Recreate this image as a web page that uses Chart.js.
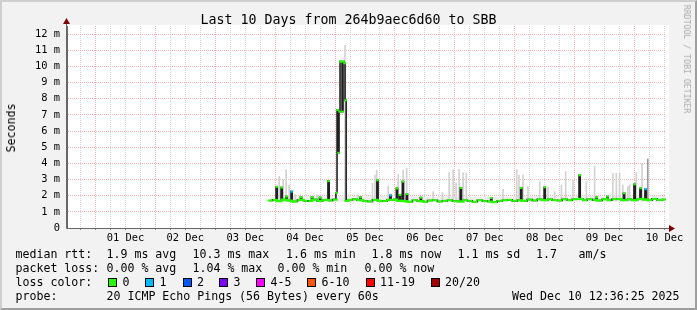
<!DOCTYPE html>
<html>
<head>
<meta charset="utf-8">
<script src="https://cdn.jsdelivr.net/npm/chart.js@4.4.1/dist/chart.umd.min.js"></script>
<style>
  html, body { margin: 0; padding: 0; background: #f2f2f2; }
  #wrap {
    position: relative; width: 697px; height: 310px; overflow: hidden;
    background: #f2f2f2; font-family: "DejaVu Sans Mono", monospace; color: #000;
  }
  #frame {
    position: absolute; left: 0; top: 0; width: 697px; height: 310px; box-sizing: border-box;
    border-top: 2px solid #cfcfcf; border-left: 2px solid #cfcfcf;
    border-right: 2px solid #9e9e9e; border-bottom: 2px solid #9e9e9e; pointer-events: none;
  }
  canvas { position: absolute; left: 0; top: 0; }
  .t { position: absolute; white-space: pre; font-size: 11.6px; line-height: 14px; }
  .box { position: absolute; width: 7px; height: 7px; border: 1px solid #000; }
  #title { position: absolute; left: 0; top: 11px; width: 697px; text-align: center; font-size: 13.3px; line-height: 17px; white-space: pre; }
  #ylabel { position: absolute; left: 11px; top: 128px; transform: translate(-50%, -50%) rotate(-90deg); font-size: 11.6px; white-space: pre; }
  #credit { position: absolute; left: 687px; top: 59px; transform: translate(-50%, -50%) rotate(90deg); font-size: 8.2px; color: #aaaaaa; white-space: pre; }
</style>
</head>
<body>
<div id="wrap">
  <canvas id="smokeChart" width="697" height="310"></canvas>
  <div id="title">Last 10 Days from 264b9aec6d60 to SBB</div>
  <div id="ylabel">Seconds</div>
  <div id="credit">RRDTOOL / TOBI OETIKER</div>
  <div id="legend"></div>
  <div id="frame"></div>
</div>
<script>
// hours are counted from 01 Dec 00:00, values in milliseconds
const dayLabels = ["01 Dec", "02 Dec", "03 Dec", "04 Dec", "05 Dec", "06 Dec", "07 Dec", "08 Dec", "09 Dec", "10 Dec"];

// median rtt, one reading every 2 hours from hour 70
const baseStart = 70;
const baseStep = 2;
const baseMs = [
  1.70, 1.74, 1.66, 1.76, 1.70, 1.64, 1.74, 1.68, 1.66, 1.76,
  1.68, 1.74, 1.70, 1.76, 1.72, 1.68, 1.74, 1.78, 1.72, 1.66,
  1.64, 1.74, 1.68, 1.66, 1.74, 1.76, 1.68, 1.66, 1.62, 1.72,
  1.66, 1.62, 1.70, 1.72, 1.64, 1.68, 1.72, 1.66, 1.64, 1.72,
  1.68, 1.62, 1.72, 1.66, 1.64, 1.60, 1.68, 1.72, 1.74, 1.68,
  1.72, 1.68, 1.76, 1.70, 1.78, 1.72, 1.78, 1.72, 1.70, 1.78,
  1.72, 1.78, 1.80, 1.72, 1.78, 1.74, 1.70, 1.78, 1.72, 1.78,
  1.80, 1.72, 1.78, 1.72, 1.80, 1.76, 1.72, 1.80, 1.74, 1.76
];

// short median jumps (hour, ms, lost pings)
const spikeHours = [72.6, 74.6, 76.6, 78.6, 82.4, 86.8, 90.0, 93.4, 96.6, 97.0, 97.4, 97.8, 98.2, 98.6, 99.0, 99.4, 99.8, 100.2,
  106.2, 113.0, 118.2, 120.8, 122.0, 123.2, 124.8, 130.4, 146.4, 158.6, 170.6, 180.0, 194.0, 200.8, 205.2, 211.8, 216.0, 218.4, 220.4];
const spikeMs = [2.55, 2.50, 1.95, 2.25, 1.90, 1.92, 1.88, 2.90, 2.18, 7.30, 4.65, 7.20, 10.30, 10.30, 7.20, 10.30, 10.20, 7.90,
  1.90, 2.95, 2.02, 2.45, 2.04, 2.87, 2.10, 1.88, 2.48, 1.86, 2.48, 2.52, 3.26, 1.90, 1.95, 2.15, 2.70, 2.46, 2.40];
const spikeLoss = [0, 0, 0, 1, 0, 0, 0, 0, 0, 0, 0, 0, 0, 0, 0, 0, 0, 0,
  0, 0, 1, 0, 0, 0, 0, 0, 0, 0, 0, 0, 0, 0, 0, 0, 0, 0, 1];

// light smoke: spread of the pings
const hazeStart = 70;
const hazeStep = 6;
const hazeTop = [1.92, 2.0, 1.96, 2.0, 1.96, 1.96, 2.0, 1.96, 2.0, 1.96, 1.92, 1.92, 1.96, 1.92,
  1.9, 1.92, 1.96, 1.96, 2.0, 1.96, 1.96, 2.0, 1.96, 2.0, 2.0, 2.04, 1.96, 1.96];
const smokeFloor = 1.68;
const smokeHours = [73.6, 75.2, 76.4, 77.6, 80, 82, 88.8, 100, 105.2, 111, 112, 112.7, 117.3, 121.3, 123.3,
  124.7, 135.3, 139, 141.7, 143.3, 144.5, 145.7, 147.3, 148.6, 163.3, 168.8, 169.7, 171.3, 173.3, 178,
  181.3, 184, 186.7, 188.4, 191.3, 196.7, 200, 207.3, 208.7, 210, 211.3, 213.3, 214, 216.7, 219];
const smokeTop = [3.2, 3.0, 3.6, 2.65, 2.1, 2.05, 2.05, 11.3, 2.05, 2.77, 3.28, 3.59, 2.6, 3.3, 3.59,
  3.7, 2.25, 2.2, 3.43, 3.6, 2.8, 3.63, 3.43, 3.4, 2.4, 3.6, 3.28, 3.28, 2.56, 2.87,
  2.5, 2.25, 2.66, 3.49, 2.97, 2.87, 3.8, 3.39, 3.39, 3.39, 2.66, 2.56, 2.66, 3.43, 4.0];
const darkSmokeHours = [221.3];
const darkSmokeTop = [4.27];

const rttStats = ["1.9 ms avg", "10.3 ms max", "1.6 ms min", "1.8 ms now", "1.1 ms sd", "1.7", "am/s"];
const lossStats = ["0.00 % avg", "1.04 % max", "0.00 % min", "0.00 % now"];
const lossLegend = ["0", "1", "2", "3", "4-5", "6-10", "11-19", "20/20"];
const lossColors = ["#26ff00", "#00b8ff", "#0059ff", "#7e00ff", "#ff00ff", "#ff5500", "#ff0000", "#a10000"];

const FONT = "DejaVu Sans Mono";

function baseAt(h) {
  const i = Math.round((h - baseStart) / baseStep);
  return baseMs[Math.min(baseMs.length - 1, Math.max(0, i))];
}

function buildMedianPoints() {
  const points = [];
  baseMs.forEach((v, i) => {
    const h = baseStart + i * baseStep;
    if (spikeHours.some((s) => Math.abs(s - h) < 1)) return;
    points.push({ x: h, y: v, loss: 0, spike: false });
  });
  spikeHours.forEach((h, i) => {
    points.push({ x: h, y: spikeMs[i], loss: spikeLoss[i], spike: true });
    const prev = spikeHours[i - 1];
    const next = spikeHours[i + 1];
    if (prev === undefined || h - prev > 0.6) points.push({ x: h - 0.5, y: baseAt(h - 0.5), loss: 0, spike: false });
    if (next === undefined || next - h > 0.6) points.push({ x: h + 0.5, y: baseAt(h + 0.5), loss: 0, spike: false });
  });
  return points.sort((a, b) => a.x - b.x);
}

const gridHours = [];
for (let h = -6; h <= 228; h += 6) gridHours.push(h);

const plotDecor = {
  id: "plotDecor",
  beforeDraw(chart) {
    const { ctx, chartArea: a } = chart;
    ctx.save();
    ctx.fillStyle = "#ffffff";
    ctx.fillRect(a.left, a.top - 1, a.right - a.left + 3, a.bottom - a.top + 1);
    ctx.restore();
  },
  afterDraw(chart) {
    const { ctx, chartArea: a } = chart;
    const x0 = Math.round(a.left) - 0.5;
    const y0 = Math.round(a.bottom) + 0.5;
    ctx.save();
    ctx.strokeStyle = "#666666";
    ctx.lineWidth = 1;
    ctx.beginPath();
    ctx.moveTo(x0, y0); ctx.lineTo(x0, a.top - 2);
    ctx.moveTo(x0, y0); ctx.lineTo(a.right + 3, y0);
    ctx.stroke();
    ctx.fillStyle = "#7f0000";
    ctx.beginPath();
    ctx.moveTo(x0, a.top - 8); ctx.lineTo(x0 - 3.5, a.top - 2); ctx.lineTo(x0 + 3.5, a.top - 2);
    ctx.closePath(); ctx.fill();
    ctx.beginPath();
    ctx.moveTo(a.right + 9, y0); ctx.lineTo(a.right + 3, y0 - 3.5); ctx.lineTo(a.right + 3, y0 + 3.5);
    ctx.closePath(); ctx.fill();
    ctx.restore();
  },
};

function drawChart() {
  const ctx = document.getElementById("smokeChart").getContext("2d");
  new Chart(ctx, {
    type: "line",
    data: {
      datasets: [
        {
          label: "median",
          type: "line",
          data: buildMedianPoints(),
          borderColor: "#202020",
          borderWidth: 1.6,
          stepped: "middle",
          pointStyle: "line",
          pointRadius: (c) => (c.raw && c.raw.spike ? 1.3 : 2.5),
          pointBorderWidth: 2,
          pointBorderColor: (c) => lossColors[c.raw ? c.raw.loss : 0],
          pointBackgroundColor: (c) => lossColors[c.raw ? c.raw.loss : 0],
          order: 1,
        },
        {
          label: "dark smoke",
          type: "bar",
          data: darkSmokeHours.map((h, i) => ({ x: h, y: [smokeFloor, darkSmokeTop[i]] })),
          backgroundColor: "#9a9a9a",
          barThickness: 1,
          grouped: false,
          order: 3,
        },
        {
          label: "smoke",
          type: "bar",
          data: smokeHours.map((h, i) => ({ x: h, y: [smokeFloor, smokeTop[i]] })),
          backgroundColor: "#d2d2d2",
          barThickness: 1,
          grouped: false,
          order: 4,
        },
        {
          label: "haze",
          type: "line",
          data: hazeTop.map((v, i) => ({ x: hazeStart + i * hazeStep, y: v })),
          borderWidth: 0,
          pointRadius: 0,
          backgroundColor: "#ededed",
          fill: { value: 1.62 },
          order: 5,
        },
      ],
    },
    options: {
      responsive: false,
      animation: false,
      events: [],
      layout: { padding: { left: 0, right: 31, top: 26, bottom: 62 } },
      plugins: { legend: { display: false }, tooltip: { enabled: false } },
      scales: {
        x: {
          type: "linear",
          min: -11.4,
          max: 228.6,
          offset: false,
          afterBuildTicks: (scale) => { scale.ticks = gridHours.map((v) => ({ value: v })); },
          afterFit: (scale) => { scale.height = 20; },
          grid: {
            offset: false,
            color: (c) => (c.tick && c.tick.value % 24 === 0 ? "#f5b4b4" : "#d6d6d6"),
            drawTicks: true,
            tickLength: 2,
            tickColor: "#888888",
          },
          border: { color: "#666666", dash: [1, 1] },
          ticks: {
            autoSkip: false,
            maxRotation: 0,
            padding: 2,
            color: "#000000",
            font: { family: FONT, size: 10.4 },
            callback: (v) => ((v - 12) % 24 === 0 ? dayLabels[(v - 12) / 24] : ""),
          },
        },
        y: {
          min: 0,
          max: 12.5,
          afterFit: (scale) => { scale.width = 67; },
          grid: {
            color: (c) => (c.tick && Number.isInteger(c.tick.value) ? "#f5b4b4" : "#d6d6d6"),
            drawTicks: false,
          },
          border: { color: "#666666", dash: [1, 1] },
          ticks: {
            stepSize: 0.5,
            padding: 7,
            color: "#000000",
            font: { family: FONT, size: 10.4 },
            callback: (v) => (Number.isInteger(v) ? (v === 0 ? "0" : v + " m") : ""),
          },
        },
      },
    },
    plugins: [plotDecor],
  });
}

function addText(parent, text, left, top) {
  const el = document.createElement("div");
  el.className = "t";
  el.textContent = text;
  el.style.left = left + "px";
  el.style.top = top + "px";
  parent.appendChild(el);
}

function drawLegend() {
  const legend = document.getElementById("legend");
  const rows = [247, 261, 275, 289];

  addText(legend, "median rtt:", 15.5, rows[0]);
  [106.5, 192.5, 286, 371.5, 457.5, 536, 578.5].forEach((x, i) => addText(legend, rttStats[i], x, rows[0]));

  addText(legend, "packet loss:", 15.5, rows[1]);
  [106.5, 192.5, 277.5, 364.5].forEach((x, i) => addText(legend, lossStats[i], x, rows[1]));

  addText(legend, "loss color:", 15.5, rows[2]);
  [108, 145, 182.5, 219, 256, 307, 365.5, 430.5].forEach((x, i) => {
    const box = document.createElement("div");
    box.className = "box";
    box.style.left = x + "px";
    box.style.top = "278px";
    box.style.background = lossColors[i];
    legend.appendChild(box);
    addText(legend, lossLegend[i], x + 14.5, rows[2]);
  });

  addText(legend, "probe:", 15.5, rows[3]);
  addText(legend, "20 ICMP Echo Pings (56 Bytes) every 60s", 106.5, rows[3]);
  addText(legend, "Wed Dec 10 12:36:25 2025", 512, rows[3]);
}

drawChart();
drawLegend();
</script>
</body>
</html>
